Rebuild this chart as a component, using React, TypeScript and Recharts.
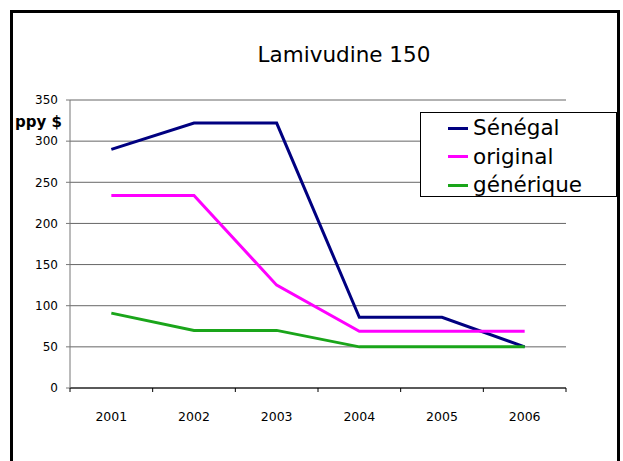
import React from "react"
import { LineChart, Line, XAxis, YAxis, CartesianGrid } from "recharts"

const years = [2001, 2002, 2003, 2004, 2005, 2006]
const senegal = [290, 322, 322, 86, 86, 50]
const original = [234, 234, 125, 69, 69, 69]
const generique = [91, 70, 70, 50, 50, 50]
const yTicks = [0, 50, 100, 150, 200, 250, 300, 350]
const bandEdges = [2000.5, 2001.5, 2002.5, 2003.5, 2004.5, 2005.5, 2006.5]

const series = [
  { key: "senegal", name: "Sénégal", color: "#000080" },
  { key: "original", name: "original", color: "#ff00ff" },
  { key: "generique", name: "générique", color: "#1aa51a" },
]

const data = years.map((year, i) => ({
  year,
  senegal: senegal[i],
  original: original[i],
  generique: generique[i],
}))

const xTicks = [...bandEdges, ...years].sort((a, b) => a - b)

const font = "'DejaVu Sans', Verdana, sans-serif"

// years get a label, band edges get a short tick mark (Excel style)
const YearTick = ({ x, y, payload }: any) =>
  Number.isInteger(payload.value) ? (
    <text x={x} y={y + 33} textAnchor="middle" fontSize={12.5} fill="#000" fontFamily={font}>
      {payload.value}
    </text>
  ) : (
    <line x1={x} x2={x} y1={y} y2={y + 4} stroke="#000" />
  )

// legend drawn by hand: the Recharts one reserves space and re-sorts entries
const LegendBox = () => (
  <div
    style={{
      position: "absolute",
      left: 420,
      top: 112,
      width: 197,
      height: 85,
      border: "1px solid #000",
      background: "#fff",
      boxSizing: "border-box",
      paddingTop: 1,
      fontFamily: font,
    }}
  >
    {series.map((s) => (
      <div key={s.key} style={{ display: "flex", alignItems: "center", height: 28.5 }}>
        <span style={{ display: "inline-block", marginLeft: 27, width: 20, height: 3, background: s.color }} />
        <span style={{ marginLeft: 5, fontSize: 21.5, color: "#000", lineHeight: "28px" }}>{s.name}</span>
      </div>
    ))}
  </div>
)

export default function App() {
  return (
    <div style={{ position: "absolute", left: 0, top: 0, width: 623, height: 461, background: "#fff", overflow: "hidden" }}>
      <div
        style={{
          position: "absolute",
          left: 10,
          top: 10,
          width: 604,
          height: 470,
          border: "3px solid #000",
        }}
      />
      <div
        style={{
          position: "absolute",
          left: 0,
          width: 688,
          top: 42,
          textAlign: "center",
          fontFamily: font,
          fontSize: 21.5,
          color: "#000",
        }}
      >
        Lamivudine 150
      </div>
      <div style={{ position: "absolute", left: 0, top: 0 }}>
        <LineChart
          width={623}
          height={461}
          data={data}
          margin={{ top: 100, right: 57, left: 0, bottom: 43 }}
          style={{ fontFamily: font }}
        >
          <CartesianGrid vertical={false} stroke="#666" strokeWidth={1} />
          <XAxis
            dataKey="year"
            type="number"
            domain={[2000.5, 2006.5]}
            ticks={xTicks}
            tick={<YearTick />}
            tickLine={false}
            tickSize={0}
            tickMargin={0}
            axisLine={{ stroke: "#000" }}
            height={30}
            interval={0}
          />
          <YAxis
            domain={[0, 350]}
            ticks={yTicks}
            width={70}
            tickSize={4}
            tickMargin={8}
            axisLine={{ stroke: "#777" }}
            tickLine={{ stroke: "#777" }}
            tick={{ fontSize: 12, fill: "#000" }}
            interval={0}
            label={({ viewBox }: any) => (
              <text x={15} y={viewBox.y + 27} fontSize={15} fontWeight="bold" fill="#000" fontFamily={font}>
                ppy $
              </text>
            )}
          />
          {series.map((s) => (
            <Line
              key={s.key}
              dataKey={s.key}
              name={s.name}
              stroke={s.color}
              strokeWidth={3}
              dot={false}
              isAnimationActive={false}
            />
          ))}
        </LineChart>
      </div>
      <LegendBox />
    </div>
  )
}
